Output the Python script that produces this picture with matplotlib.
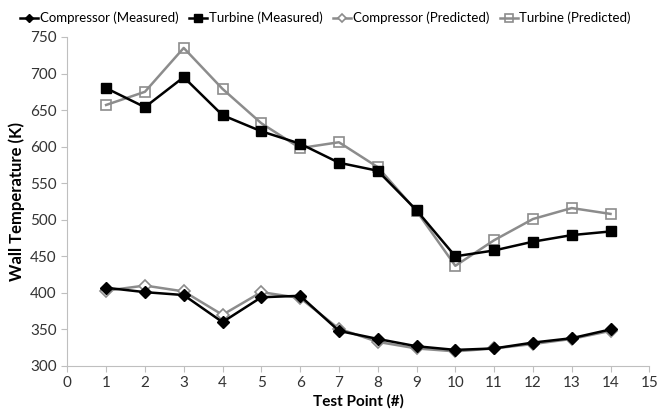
import matplotlib.pyplot as plt
import numpy as np

plt.rcParams['font.family'] = ['Lato', 'DejaVu Sans']

test_point = np.arange(1, 15)
comp_meas = [407, 401, 397, 360, 394, 396, 348, 337, 327, 322, 324, 332, 338, 350]
turb_meas = [680, 654, 695, 643, 621, 604, 578, 567, 513, 450, 458, 470, 479, 484]
comp_pred = [403, 410, 402, 370, 401, 393, 351, 333, 324, 320, 324, 330, 337, 348]
turb_pred = [657, 675, 735, 679, 632, 598, 606, 572, 512, 437, 472, 501, 516, 508]

gray = '#8c8c8c'

fig = plt.figure(figsize=(6.58, 4.2), dpi=100)
ax = fig.add_axes([0.1023, 0.1286, 0.8845, 0.7834])

ax.plot(test_point, comp_meas, color='black', lw=1.8, marker='D', ms=6,
        mfc='black', mec='black', label='Compressor (Measured)', zorder=4)
ax.plot(test_point, turb_meas, color='black', lw=1.8, marker='s', ms=7.5,
        mfc='black', mec='black', label='Turbine (Measured)', zorder=4)
ax.plot(test_point, comp_pred, color=gray, lw=1.8, marker='D', ms=6,
        mfc='white', mec=gray, mew=1.2, label='Compressor (Predicted)', zorder=3)
ax.plot(test_point, turb_pred, color=gray, lw=1.8, marker='s', ms=7.5,
        mfc='none', mec=gray, mew=1.2, label='Turbine (Predicted)', zorder=3)

ax.set_xlim(0, 15)
ax.set_ylim(300, 750)
ax.set_xticks(range(0, 16))
ax.set_yticks(range(300, 751, 50))
ax.set_xlabel('Test Point (#)', fontsize=11, fontweight='bold', labelpad=3)
ax.set_ylabel('Wall Temperature (K)', fontsize=12, fontweight='bold', labelpad=4)

for s in ['top', 'right']:
    ax.spines[s].set_visible(False)
for s in ['left', 'bottom']:
    ax.spines[s].set_color('#bfbfbf')
ax.tick_params(axis='both', colors='#bfbfbf', labelcolor='#333333', labelsize=11, length=4)

leg = fig.legend(loc='upper left', bbox_to_anchor=(0.012, 1.0), ncol=4, frameon=False,
                 fontsize=9.5, handlelength=1.4, handletextpad=0.1, columnspacing=0.8,
                 markerscale=0.75)

fig.savefig('out.png', dpi=100)
